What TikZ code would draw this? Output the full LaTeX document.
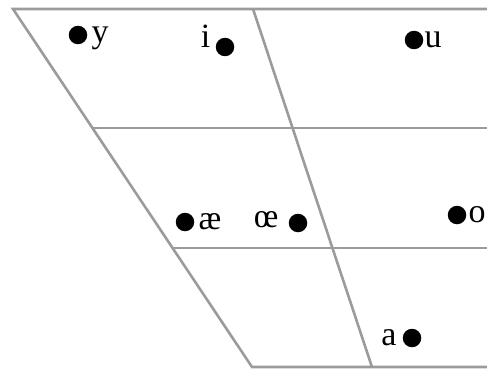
\documentclass[tikz,border=0pt]{standalone}
\usepackage{fontspec}
\setmainfont{Liberation Serif}
\usepackage{xcolor}
\usetikzlibrary{positioning}
\definecolor{chartgray}{RGB}{155,155,155}

\begin{document}
\begin{tikzpicture}[x=1pt, y=-1pt,
  chart/.style={draw=chartgray, line width=2.6pt},
  vdot/.style={circle, fill=black, inner sep=0pt, minimum size=18.5pt},
  vlab/.style={inner sep=0pt, text height=15pt, text depth=0pt,
               font=\fontsize{34}{36}\selectfont}]
\useasboundingbox (0,0) rectangle (487,369);
% trapezoid
\draw[chart] (490,9) -- (13,9) -- (252,367) -- (490,367);
\draw[chart] (92,128) -- (490,128);
\draw[chart] (172,248) -- (490,248);
\draw[chart] (253,9) -- (372,367);
% vowels
\node[vdot] (dy) at (78,35) {};
\node[vlab, right=4pt of dy] (y) {y};
\node[vdot] (di) at (225,47) {};
\node[vlab, left=5pt of di, yshift=7pt] (i) {i};
\node[vdot] (du) at (414,40) {};
\node[vlab, right=1pt of du] (u) {u};
\node[vdot] (dae) at (185,222) {};
\node[vlab, right=4pt of dae] (ae) {æ};
\node[vdot] (doe) at (298,223) {};
\node[vlab, left=10pt of doe, yshift=3pt] (oe) {œ};
\node[vdot] (do) at (457,215) {};
\node[vlab, right=2pt of do] (o) {o};
\node[vdot] (da) at (412,338) {};
\node[vlab, left=6pt of da] (a) {a};
\end{tikzpicture}
\end{document}
